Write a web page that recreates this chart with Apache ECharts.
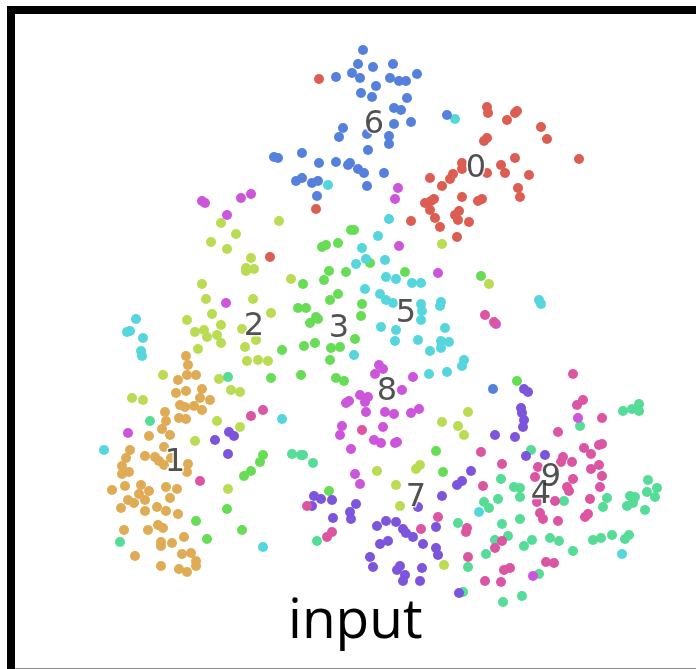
<!DOCTYPE html>
<html>
<head>
<meta charset="utf-8">
<style>
    html, body { margin: 0; padding: 0; background: #fff; }
    #chart { width: 696px; height: 669px; }
</style>
<script src="https://cdn.jsdelivr.net/npm/echarts@6/dist/echarts.min.js"></script>
</head>
<body>
<div id="chart"></div>
<script>
// points, one list per digit class
var digit0 = [[487,107],[488,113],[517,111],[515,113],[507,120],[541,127],[547,139],[487,138],[484,141],[579,159],[515,158],[501,165],[462,163],[462,169],[505,173],[529,175],[487,173],[453,174],[450,179],[430,178],[442,186],[518,188],[520,197],[462,197],[482,199],[478,201],[434,199],[431,201],[425,203],[430,210],[459,211],[455,215],[458,220],[435,218],[469,222],[411,221],[440,227],[457,237],[319,79],[316,209],[270,257]];
var digit1 = [[186,356],[188,365],[187,375],[196,375],[178,380],[202,389],[186,391],[176,393],[200,398],[210,400],[180,405],[185,407],[194,406],[202,410],[165,412],[179,418],[186,419],[166,421],[162,429],[149,436],[170,435],[164,447],[130,450],[126,458],[145,456],[155,457],[159,461],[164,465],[171,458],[188,464],[187,472],[122,466],[129,472],[122,474],[125,486],[141,485],[166,487],[177,489],[112,490],[149,491],[139,494],[170,498],[145,500],[128,500],[134,503],[121,508],[157,507],[145,511],[166,511],[178,514],[158,525],[163,528],[148,530],[124,530],[184,537],[172,543],[161,542],[161,546],[135,556],[182,554],[191,553],[196,561],[196,566],[161,566],[179,569],[187,572]];
var digit2 = [[221,223],[279,221],[236,234],[211,242],[227,249],[251,258],[246,268],[246,271],[254,269],[291,279],[202,284],[206,299],[253,299],[271,313],[212,314],[187,320],[221,325],[204,330],[195,332],[242,329],[207,337],[217,335],[221,343],[198,349],[245,347],[256,340],[247,361],[258,360],[268,361],[163,375],[219,379],[231,390],[240,392],[132,398],[143,400],[217,421],[240,427],[195,441],[228,489],[442,244],[489,284],[468,412],[442,422],[458,426],[464,435],[377,471],[420,465],[416,469],[396,485],[400,506],[444,565]];
var digit3 = [[351,230],[354,230],[322,247],[326,245],[338,243],[370,263],[329,271],[346,272],[405,272],[324,280],[303,284],[338,294],[330,300],[362,304],[298,308],[306,308],[361,316],[316,317],[318,319],[310,323],[355,339],[304,346],[315,343],[331,348],[340,347],[282,350],[330,360],[301,375],[271,378],[336,378],[344,381],[517,381],[436,451],[443,472],[263,455],[260,462],[251,471],[244,476],[227,509],[196,521],[207,539],[242,530],[329,491],[481,276]];
var digit4 = [[228,377],[150,421],[120,542],[292,454],[301,455],[303,455],[313,463],[317,541],[639,404],[632,409],[639,411],[623,411],[580,426],[531,450],[501,479],[648,480],[657,488],[514,487],[520,488],[647,492],[655,497],[630,496],[635,497],[607,498],[520,497],[498,499],[564,501],[484,502],[489,508],[633,503],[627,506],[603,507],[645,510],[520,519],[458,523],[502,524],[508,536],[495,540],[532,540],[550,538],[559,541],[524,546],[593,540],[601,538],[612,535],[629,535],[625,539],[486,554],[573,551],[468,567],[539,574],[463,592],[522,596],[503,602]];
var digit5 = [[328,185],[136,319],[127,332],[130,331],[143,338],[141,351],[142,356],[104,450],[282,419],[263,547],[455,119],[389,219],[378,236],[362,248],[366,259],[356,264],[385,260],[386,277],[396,279],[412,283],[421,283],[365,289],[380,294],[386,300],[393,303],[421,304],[422,311],[421,320],[441,302],[440,306],[381,327],[396,330],[445,328],[539,300],[541,304],[395,341],[418,340],[441,341],[449,342],[441,348],[430,351],[354,355],[464,360],[462,366],[429,374],[447,372],[479,512],[622,554]];
var digit6 = [[363,50],[358,64],[373,67],[393,64],[336,77],[352,73],[360,78],[390,78],[399,81],[406,81],[417,74],[376,86],[361,93],[372,97],[407,98],[394,108],[401,110],[411,122],[394,124],[447,115],[343,128],[339,137],[367,134],[389,136],[389,144],[368,150],[302,153],[274,157],[278,158],[319,163],[336,162],[350,163],[348,165],[358,169],[364,173],[384,173],[302,178],[296,181],[318,181],[312,183],[367,186],[317,196],[493,389]];
var digit7 = [[229,432],[234,436],[215,440],[228,454],[314,496],[321,499],[332,500],[312,506],[333,518],[356,504],[350,512],[351,519],[442,496],[418,507],[386,521],[396,522],[377,526],[403,529],[406,533],[413,537],[423,544],[436,527],[436,548],[438,555],[380,544],[388,541],[370,557],[373,567],[400,566],[397,570],[422,568],[405,575],[403,581],[420,581],[459,593],[471,471],[462,481],[457,485],[545,455],[526,456],[495,435],[515,437],[523,427],[524,420],[522,413],[521,408],[524,389],[528,392]];
var digit8 = [[202,201],[205,203],[241,198],[251,194],[227,215],[226,303],[398,188],[395,199],[399,246],[438,273],[496,324],[379,365],[383,369],[375,374],[413,377],[402,390],[360,395],[368,397],[365,402],[346,403],[349,401],[419,409],[411,413],[366,412],[385,412],[394,414],[383,427],[374,440],[381,443],[395,443],[397,442],[342,426],[340,435],[351,449],[355,474],[360,484],[578,418],[533,576],[128,433]];
var digit9 = [[251,416],[263,410],[200,481],[307,506],[327,537],[332,532],[362,430],[573,374],[583,400],[577,405],[602,418],[558,432],[481,452],[584,448],[599,445],[602,444],[591,454],[563,457],[572,462],[561,462],[502,464],[538,467],[599,465],[591,469],[602,476],[535,477],[573,479],[483,486],[600,487],[567,487],[569,491],[590,499],[555,501],[537,502],[540,513],[543,519],[558,521],[588,514],[585,517],[438,517],[421,529],[467,528],[466,532],[502,541],[495,548],[468,557],[510,568],[504,570],[546,562],[554,563],[485,581],[501,582],[485,315],[494,322]];

var classes = [digit0, digit1, digit2, digit3, digit4, digit5, digit6, digit7, digit8, digit9];
var classColors = ['#dc5e52', '#dfab55', '#b9dc52', '#67dc55', '#55dc97', '#55d6dc', '#5581dc', '#7c55dc', '#cc55dc', '#dc55a3'];

// digit names and where they sit in the cloud
var labelNames = ['0', '1', '2', '3', '4', '5', '6', '7', '8', '9'];
var labelX = [476, 175, 254, 339, 541, 406, 374, 416, 387, 551];
var labelY = [169, 463, 327, 329, 495, 314, 125, 498, 392, 478];

var chart = echarts.init(document.getElementById('chart'));

var series = classes.map(function (points, i) {
    return {
        type: 'scatter',
        name: labelNames[i],
        data: points,
        symbolSize: 10,
        silent: true,
        itemStyle: { color: classColors[i], opacity: 1 }
    };
});

var labelData = labelNames.map(function (name, i) {
    return { name: name, value: [labelX[i], labelY[i]] };
});

// white halo first, dark digit on top, so the stroke doesn't thin the digit
function labelSeries(z, color, haloWidth) {
    return {
        type: 'scatter',
        z: z,
        symbolSize: 0,
        silent: true,
        data: labelData,
        labelLayout: { hideOverlap: false },
        label: {
            show: true,
            position: 'inside',
            formatter: '{b}',
            fontFamily: 'DejaVu Sans',
            fontSize: 32,
            color: color,
            textBorderColor: '#fff',
            textBorderWidth: haloWidth
        }
    };
}
series.push(labelSeries(5, '#fff', 3));
series.push(labelSeries(6, '#262626', 0));

chart.setOption({
    animation: false,
    backgroundColor: '#fff',
    grid: { left: 0, right: 0, top: 0, bottom: 0 },
    xAxis: { type: 'value', min: 0, max: 696, show: false },
    yAxis: { type: 'value', min: 0, max: 669, inverse: true, show: false },
    title: {
        text: 'input',
        left: 288,
        top: 595,
        padding: 0,
        textStyle: { fontFamily: 'Open Sans', fontSize: 55, fontWeight: 'normal', color: '#000' }
    },
    graphic: [
        { type: 'rect', shape: { x: 7, y: 6, width: 8, height: 663 }, style: { fill: '#000' } },
        { type: 'rect', shape: { x: 7, y: 6, width: 689, height: 8 }, style: { fill: '#000' } },
        { type: 'rect', shape: { x: 15, y: 668, width: 681, height: 1 }, style: { fill: '#8a8a8a' } }
    ],
    series: series
});
</script>
</body>
</html>
